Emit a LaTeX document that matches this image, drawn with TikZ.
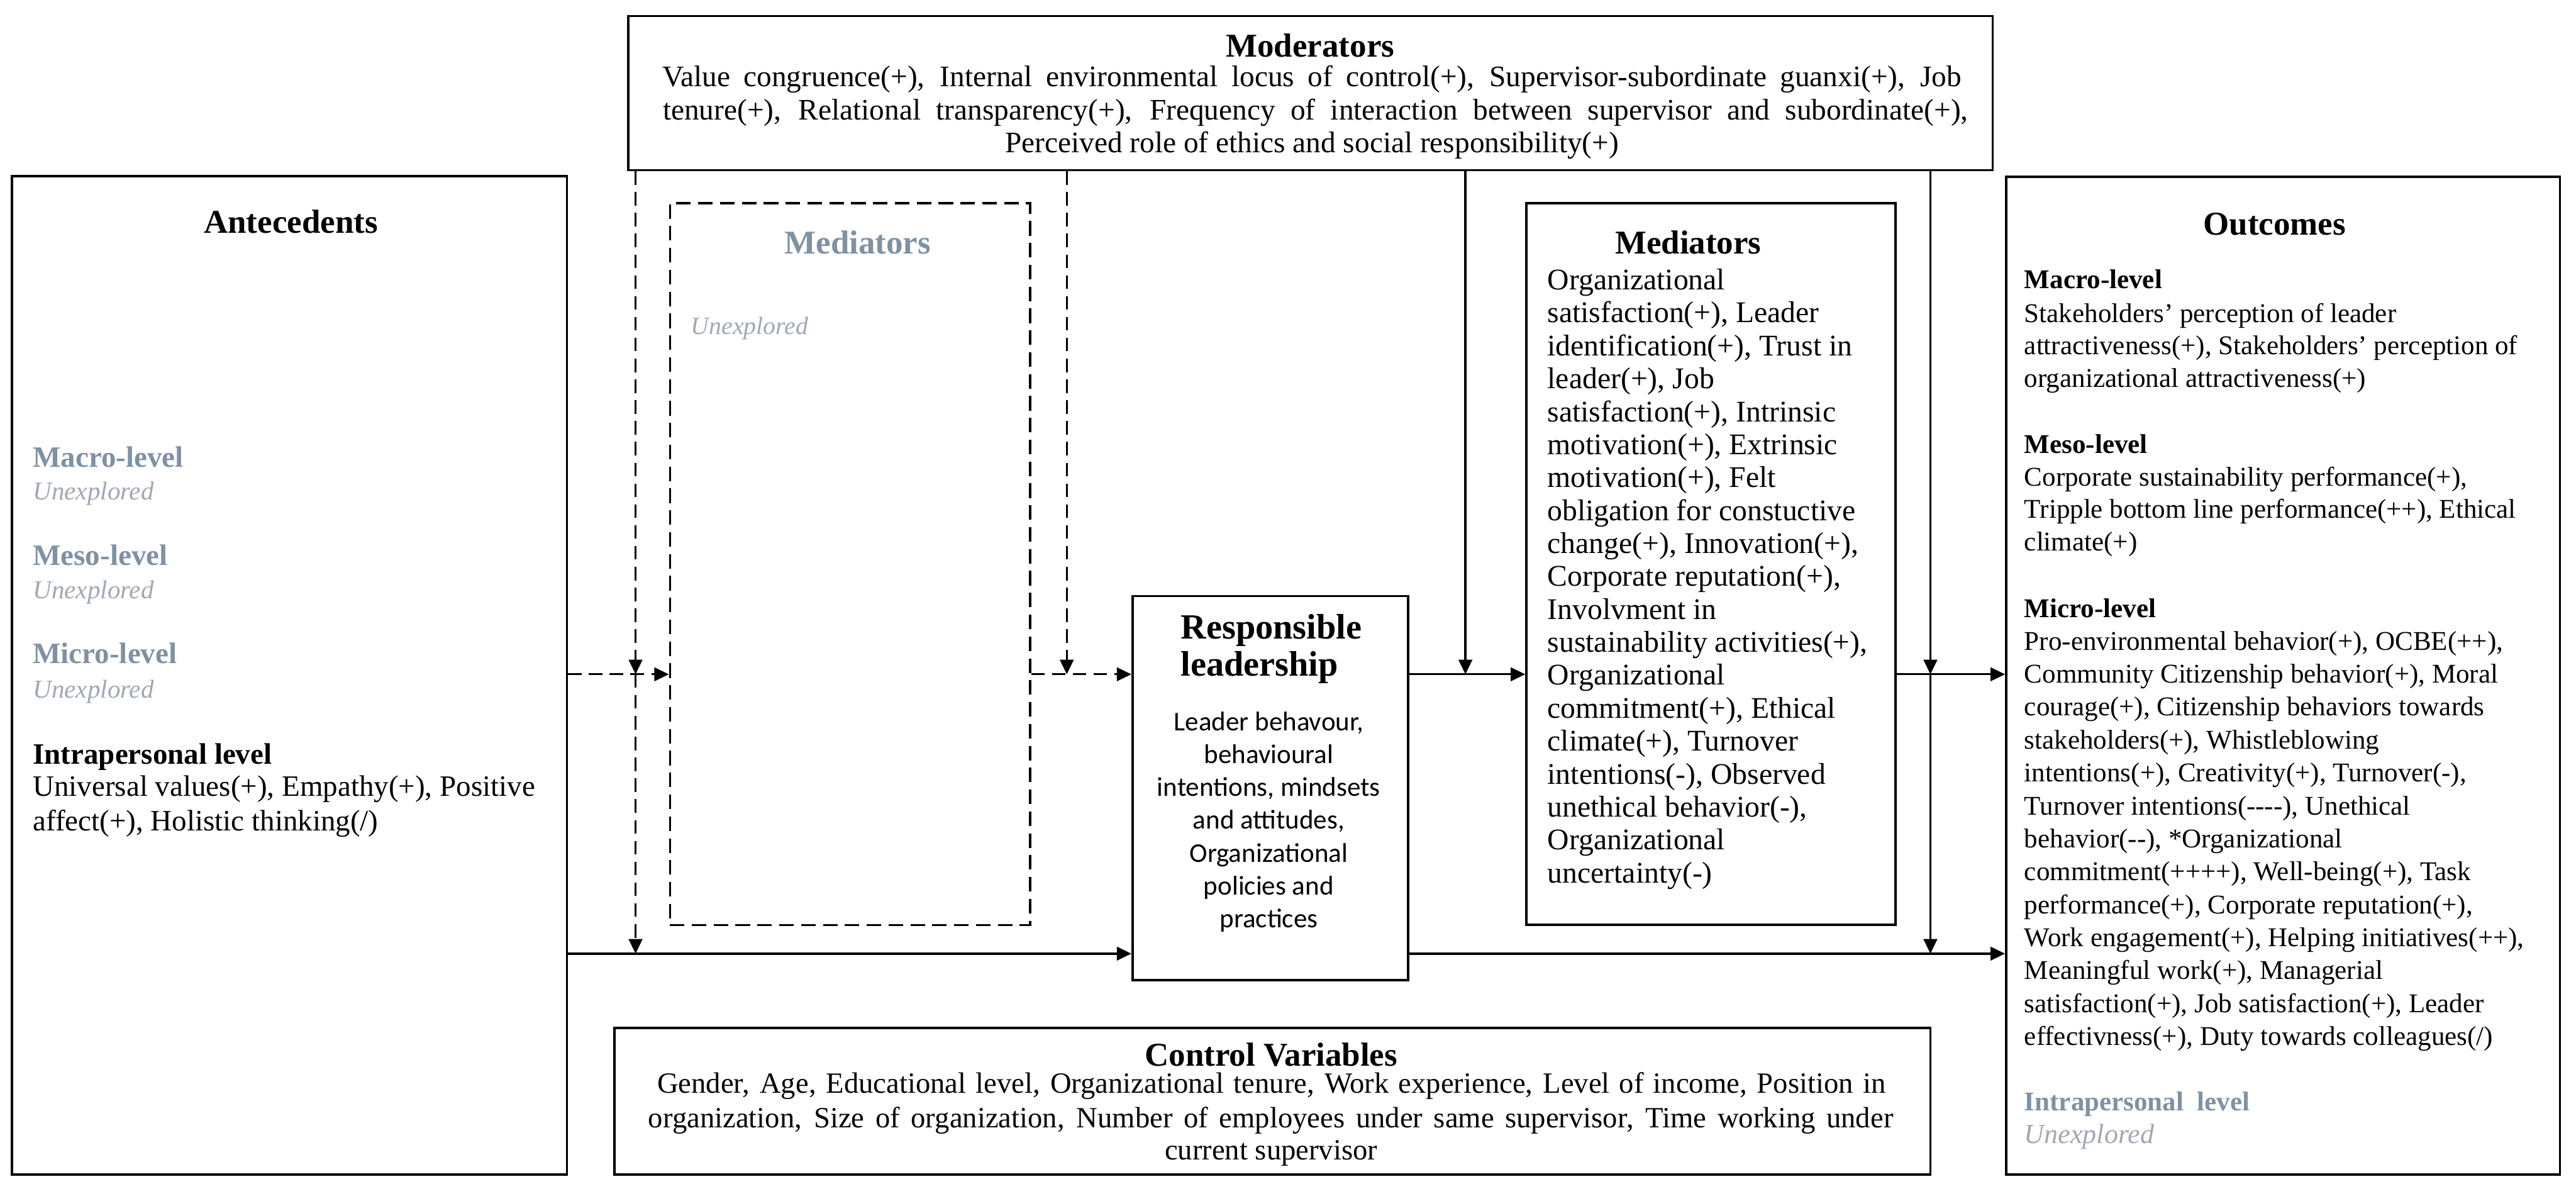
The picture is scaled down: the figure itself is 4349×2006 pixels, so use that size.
\documentclass[tikz,border=0pt]{standalone}
\usepackage{fontspec}
\setmainfont{Liberation Serif}
\newfontfamily\calibfont{Carlito}
\usetikzlibrary{arrows.meta,fit,calc}
\definecolor{hgray}{RGB}{128,145,163}
\definecolor{ugray}{RGB}{160,168,180}
\newcommand\fsTitle{\fontsize{16}{19}\selectfont\bfseries}
\newcommand\fsRL{\fontsize{17}{20}\selectfont\bfseries}
\newcommand\fsMod{\fontsize{14.3}{17}\selectfont}
\newcommand\fsCtl{\fontsize{14.1}{17}\selectfont}
\newcommand\fsAnt{\fontsize{14.2}{17}\selectfont}
\newcommand\fsMed{\fontsize{14.4}{17}\selectfont}
\newcommand\fsOut{\fontsize{13}{16}\selectfont}
\newcommand\fsCal{\calibfont\fontsize{13}{16}\selectfont}
\begin{document}
\begin{tikzpicture}[x=0.1mm,y=-0.1mm,
  box/.style={draw, line width=1.1pt, inner sep=0pt},
  dbox/.style={draw, line width=1pt, dash pattern=on 7pt off 3.5pt, inner sep=0pt},
  conn/.style={line width=1pt, -{Triangle[length=7pt,width=6.5pt]}},
  dconn/.style={conn, dash pattern=on 6.5pt off 3.5pt},
  txt/.style={inner sep=0pt, anchor=base west},
  ctxt/.style={inner sep=0pt, anchor=base},
  ttl/.style={ctxt, font=\fsTitle}]
\useasboundingbox (0,0) rectangle (4349,2006);

% boxes
\node[box, fit={(1061,27) (3364,287)}] (mod) {};
\node[box, fit={(20,297) (957,1982)}] (ante) {};
\node[dbox, fit={(1131,343) (1739,1561)}] (dmed) {};
\node[box, fit={(1912,1006) (2377,1654)}] (rl) {};
\node[box, fit={(2577,343) (3200,1561)}] (med) {};
\node[box, fit={(3387,298) (4322,1982)}] (out) {};
\node[box, fit={(1037,1735) (3259,1982)}] (ctrl) {};

% helper coordinates
\coordinate (ya) at (0,1138);
\coordinate (yb) at (0,1609.5);
\coordinate (v1) at (1073,0);
\coordinate (v2) at (1801,0);
\coordinate (v3) at (2474,0);
\coordinate (v4) at (3259,0);

% connectors
\draw[dconn] (ante.east |- ya) -- (dmed.west |- ya);
\draw[dconn] (dmed.east |- ya) -- (rl.west |- ya);
\draw[conn] (ante.east |- yb) -- (rl.west |- yb);
\draw[dconn] (v1 |- mod.south) -- (v1 |- ya);
\draw[dconn] (v1 |- ya) -- (v1 |- yb);
\draw[dconn] (v2 |- mod.south) -- (v2 |- ya);
\draw[conn] (rl.east |- ya) -- (med.west |- ya);
\draw[conn] (v3 |- mod.south) -- (v3 |- ya);
\draw[conn] (med.east |- ya) -- (out.west |- ya);
\draw[conn] (rl.east |- yb) -- (out.west |- yb);
\draw[conn] (v4 |- mod.south) -- (v4 |- ya);
\draw[conn] (v4 |- ya) -- (v4 |- yb);

% Moderators
\node[ttl] (modt) at (2212,96) {Moderators};
\node[ctxt, font=\fsMod] (mod1) at (2215,146) {\makebox[624pt][s]{Value congruence(+), Internal environmental locus of control(+), Supervisor-subordinate guanxi(+), Job}};
\node[ctxt, font=\fsMod] (mod2) at (2221,202) {\makebox[627pt][s]{tenure(+), Relational transparency(+), Frequency of interaction between supervisor and subordinate(+),}};
\node[ctxt, font=\fsMod] (mod3) at (2215,257) {Perceived role of ethics and social responsibility(+)};

% Antecedents
\node[ttl] (antt) at (491,393) {Antecedents};
\node[txt, font=\fsAnt\bfseries, text=hgray] (ant1) at (55,788) {Macro-level};
\node[txt, font=\fontsize{12.4}{15}\selectfont\itshape, text=ugray] (ant2) at (55,844) {Unexplored};
\node[txt, font=\fsAnt\bfseries, text=hgray] (ant3) at (55,954) {Meso-level};
\node[txt, font=\fontsize{12.4}{15}\selectfont\itshape, text=ugray] (ant4) at (55,1010) {Unexplored};
\node[txt, font=\fsAnt\bfseries, text=hgray] (ant5) at (55,1120) {Micro-level};
\node[txt, font=\fontsize{12.4}{15}\selectfont\itshape, text=ugray] (ant6) at (55,1178) {Unexplored};
\node[txt, font=\fsAnt\bfseries] (ant7) at (55,1290) {Intrapersonal level};
\node[txt, font=\fsAnt] (ant8) at (55,1344) {Universal values(+), Empathy(+), Positive};
\node[txt, font=\fsAnt] (ant9) at (55,1402) {affect(+), Holistic thinking(/)};

% Unexplored mediators
\node[ctxt, font=\fsTitle, text=hgray] (dmedt) at (1448,428) {Mediators};
\node[txt, font=\fontsize{12}{15}\selectfont\itshape, text=ugray] (dmed1) at (1166,564) {Unexplored};

% Responsible leadership
\node[txt, font=\fsRL] (rlt1) at (1993,1078) {Responsible};
\node[txt, font=\fsRL] (rlt2) at (1993,1141) {leadership};
\foreach \t [count=\i from 0] in {{Leader behavour,},{behavioural},{intentions, mindsets},{and attitudes,},{Organizational},{policies and},{practices}}{
  \node[ctxt, font=\fsCal] (rlb-\i) at (2142,{1233+55.4*\i}) {\t};
}

% Mediators
\node[ttl] (medt) at (2850,428) {Mediators};
\foreach \t [count=\i from 0] in {{Organizational},{satisfaction(+), Leader},{identification(+), Trust in},{leader(+), Job},{satisfaction(+), Intrinsic},{motivation(+), Extrinsic},{motivation(+), Felt},{obligation for constuctive},{change(+), Innovation(+),},{Corporate reputation(+),},{Involvment in},{sustainability activities(+),},{Organizational},{commitment(+), Ethical},{climate(+), Turnover},{intentions(-), Observed},{unethical behavior(-),},{Organizational},{uncertainty(-)}}{
  \node[txt, font=\fsMed] (medl-\i) at (2612,{489+55.6*\i}) {\t};
}

% Outcomes
\node[ttl] (outt) at (3840,397) {Outcomes};
\node[txt, font=\fsOut\bfseries] (outh1) at (3417,487) {Macro-level};
\node[txt, font=\fsOut] (outa1) at (3417,544) {Stakeholders’ perception of leader};
\node[txt, font=\fsOut] (outa2) at (3417,598) {attractiveness(+), Stakeholders’ perception of};
\node[txt, font=\fsOut] (outa3) at (3417,653) {organizational attractiveness(+)};
\node[txt, font=\fsOut\bfseries] (outh2) at (3417,765) {Meso-level};
\node[txt, font=\fsOut] (outb1) at (3417,820) {Corporate sustainability performance(+),};
\node[txt, font=\fsOut] (outb2) at (3417,874) {Tripple bottom line performance(++), Ethical};
\node[txt, font=\fsOut] (outb3) at (3417,930) {climate(+)};
\node[txt, font=\fsOut\bfseries] (outh3) at (3417,1042) {Micro-level};
\foreach \t [count=\i from 0] in {{Pro-environmental behavior(+), OCBE(++),},{Community Citizenship behavior(+), Moral},{courage(+), Citizenship behaviors towards},{stakeholders(+), Whistleblowing},{intentions(+), Creativity(+), Turnover(-),},{Turnover intentions(-{}-{}-{}-), Unethical},{behavior(-{}-), *Organizational},{commitment(++++), Well-being(+), Task},{performance(+), Corporate reputation(+),},{Work engagement(+), Helping initiatives(++),},{Meaningful work(+), Managerial},{satisfaction(+), Job satisfaction(+), Leader},{effectivness(+), Duty towards colleagues(/)}}{
  \node[txt, font=\fsOut] (outc-\i) at (3417,{1097+55.6*\i}) {\t};
}
\node[txt, font=\fsOut\bfseries, text=hgray] (outh4) at (3417,1874) {Intrapersonal\ \ level};
\node[txt, font=\fontsize{13.3}{16}\selectfont\itshape, text=ugray] (outd1) at (3417,1930) {Unexplored};

% Control variables
\node[ttl] (ctrlt) at (2146,1799) {Control Variables};
\node[ctxt, font=\fsCtl] (ctl1) at (2146.5,1845) {\makebox[590pt][s]{Gender, Age, Educational level, Organizational tenure, Work experience, Level of income, Position in}};
\node[ctxt, font=\fsCtl] (ctl2) at (2145.5,1903) {\makebox[598pt][s]{organization, Size of organization, Number of employees under same supervisor, Time working under}};
\node[ctxt, font=\fsCtl] (ctl3) at (2146,1957) {current supervisor};
\end{tikzpicture}
\end{document}
